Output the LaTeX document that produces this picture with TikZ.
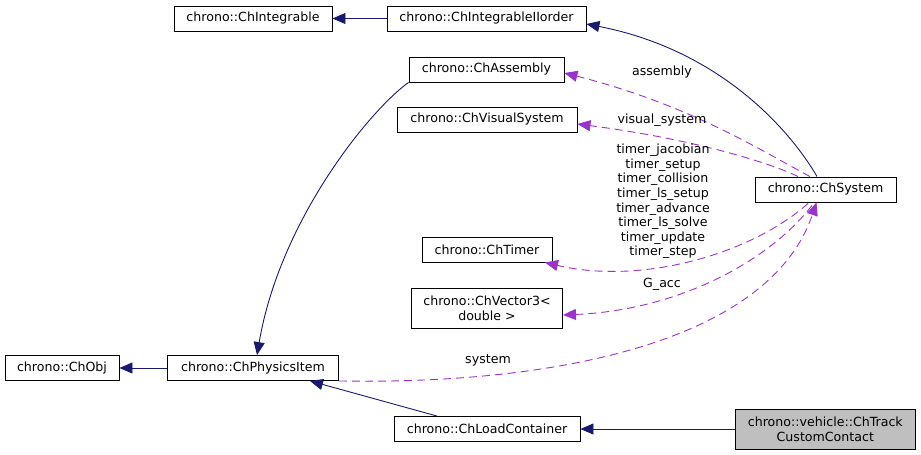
\documentclass[tikz,border=0pt]{standalone}
\usepackage{fontspec}
\setmainfont{DejaVu Sans}
\usetikzlibrary{arrows.meta,calc}
\definecolor{navyc}{HTML}{191970}
\definecolor{orch}{HTML}{9A32CD}
\definecolor{grayfill}{HTML}{BFBFBF}
\tikzset{
  box/.style={draw=black, line width=0.9pt, inner sep=0pt, align=center,
    font=\fontsize{12.6}{14.6}\selectfont, text=black, fill=white},
  lbl/.style={inner sep=0pt, align=center, font=\fontsize{12.6}{14.6}\selectfont, text=black},
  inh/.style={draw=navyc, line width=0.9pt, -{Triangle[length=13pt,width=11pt]}},
  use/.style={draw=orch, line width=0.9pt, dash pattern=on 8pt off 5pt,
    -{Triangle[length=13pt,width=11pt]}},
}
\begin{document}
\begin{tikzpicture}[x=1pt,y=-1pt]
\useasboundingbox (0,0) rectangle (921,455);
% nodes
\node[box, minimum width=158pt, minimum height=25pt] (integ) at (253,18.5) {chrono::ChIntegrable};
\node[box, minimum width=199pt, minimum height=25pt] (integ2) at (486.5,18.5) {chrono::ChIntegrableIIorder};
\node[box, minimum width=155pt, minimum height=25pt] (assembly) at (486.5,69.5) {chrono::ChAssembly};
\node[box, minimum width=180pt, minimum height=25pt] (visual) at (487,119.5) {chrono::ChVisualSystem};
\node[box, minimum width=141pt, minimum height=25pt] (system) at (825.5,189.5) {chrono::ChSystem};
\node[box, minimum width=130pt, minimum height=25pt] (timer) at (487,249.5) {chrono::ChTimer};
\node[box, minimum width=151pt, minimum height=40pt] (vector) at (487,308) {chrono::ChVector3<\\double >};
\node[box, minimum width=114pt, minimum height=25pt] (obj) at (62,368) {chrono::ChObj};
\node[box, minimum width=171pt, minimum height=25pt] (phys) at (253,368) {chrono::ChPhysicsItem};
\node[box, minimum width=186pt, minimum height=25pt] (load) at (487,429) {chrono::ChLoadContainer};
\node[box, minimum width=180pt, minimum height=40pt, fill=grayfill] (track) at (825.3,429) {chrono::vehicle::ChTrack\\CustomContact};
% inheritance edges
\draw[inh] (integ2) -- (integ);
\draw[inh] ($(system.north)+(-8.5,0)$) .. controls (790,130) and (720,50) .. ($(integ2.east)+(0,5.5)$);
\draw[inh] (assembly.south west) .. controls (370,110) and (280,220) .. ($(phys.north)+(4,0)$);
\draw[inh] (phys) -- (obj);
\draw[inh] ($(load.north)+(-50,0)$) -- ($(phys.south)+(57,0)$);
\draw[inh] (track) -- (load);
% usage edges
\draw[use] ($(system.north)+(-15.5,0)$) .. controls (760,150) and (690,105) .. ($(assembly.east)+(0,3.5)$);
\draw[use] ($(system.north)+(-27.5,0)$) .. controls (775,165) and (700,140) .. ($(visual.east)+(0,4.5)$);
\draw[use] ($(system.south)+(-17.5,1)$) .. controls (750,255) and (640,285) .. ($(timer.south)+(58,0)$);
\draw[use] ($(system.south)+(-13.5,3)$) .. controls (770,260) and (680,310) .. ($(vector.east)+(0,7)$);
\draw[use] (phys.south east) .. controls (560,385) and (770,340) .. ($(system.south)+(-9,0)$);
% labels
\node[lbl] (l1) at (662,72) {assembly};
\node[lbl] (l2) at (662,120) {visual\_system};
\node[lbl] (l3) at (663,201.5) {timer\_jacobian\\timer\_setup\\timer\_collision\\timer\_ls\_setup\\timer\_advance\\timer\_ls\_solve\\timer\_update\\timer\_step};
\node[lbl] (l4) at (662,284) {G\_acc};
\node[lbl] (l5) at (488,360) {system};
\end{tikzpicture}
\end{document}
